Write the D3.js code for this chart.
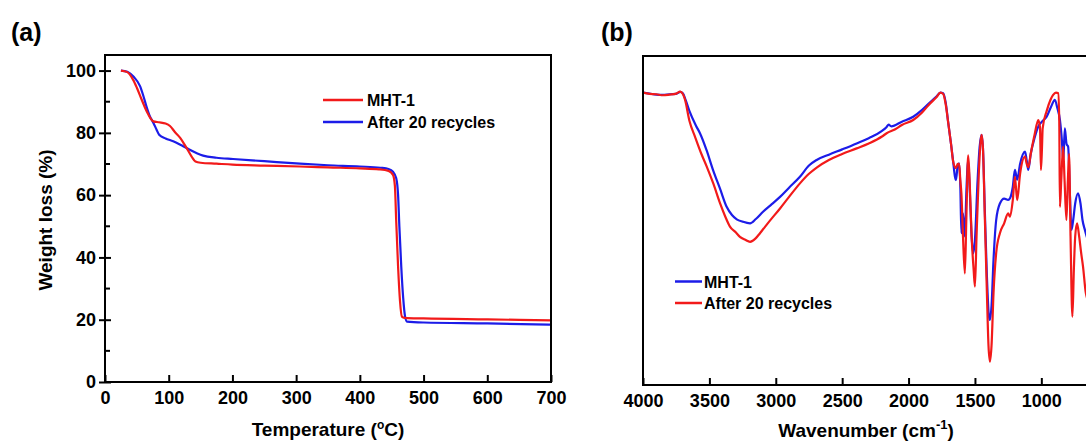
<!DOCTYPE html>
<meta charset="utf-8">
<head>
<style>
  body { margin: 0; background: #fff; }
  svg text { font-family: "Liberation Sans", Arial, sans-serif; font-weight: bold; fill: #000; }
  .axis path, .axis line { fill: none; stroke: #000; stroke-width: 2px; }
  .axis text { font-size: 18px; }
  .frame { fill: none; stroke: #000; stroke-width: 2px; }
  .curve { fill: none; stroke-width: 2.2px; stroke-linejoin: round; }
</style>
</head>
<body>
<script src="https://d3js.org/d3.v7.min.js"></script>
<script>

// TGA curves: [temperature (°C), weight (%)]
var tgaFresh = [[25,100],[35,99.5],[44,97.1],[50,94.5],[57.5,90.7],[63,88],[68,85.9],[72,84.5],[76,83.7],[85,83.4],[95,83],[102,82.2],[110,80.2],[118,78.4],[127,75.5],[136,72.4],[142,70.8],[150,70.4],[175,70.1],[200,69.8],[250,69.5],[306,69.2],[350,68.9],[400,68.6],[430,68.3],[445,67.8],[452,66.5],[455,63],[457,52],[460,37],[463,26],[466,21],[470,20.6],[500,20.4],[600,20.1],[700,19.8]];
var tgaRecycled = [[25,100],[35,99.6],[45,98],[55,95],[60,92],[65,88.5],[70,85.5],[76,83.2],[81,81],[85,79.4],[95,78.2],[107,77.3],[120,76],[133,74.6],[145,73.4],[154,72.7],[175,72],[201,71.6],[250,70.9],[306,70.1],[350,69.6],[400,69.2],[432,68.8],[445,68.4],[452,67.5],[457,65.5],[460,60],[462,50],[465,37],[468,27],[471,21],[474,19.4],[500,19.1],[600,18.8],[700,18.4]];
var tgaTempTicks = [0,100,200,300,400,500,600,700];
var tgaWeightTicks = [0,20,40,60,80,100];
var tgaWeightMinor = [10,30,50,70,90];

// FTIR spectra: [wavenumber (cm-1), transmittance (a.u.)]
var irFresh = [[4000,88.6],[3950,88.3],[3900,88.0],[3850,87.9],[3800,88.1],[3750,88.2],[3720,88.8],[3700,88.4],[3680,86.5],[3650,83],[3600,78.5],[3571,76.3],[3520,71],[3473,65.2],[3420,59.5],[3370,54],[3330,51.5],[3294,50.2],[3250,49.5],[3194,49],[3150,50.3],[3096,52.5],[3030,54.8],[2968,57],[2900,59.8],[2818,63.1],[2750,66.5],[2692,68.2],[2600,69.8],[2500,71.4],[2391,73.2],[2300,74.8],[2200,77],[2165,78.2],[2150,78.9],[2130,78.4],[2050,79.8],[1965,81.3],[1900,83.3],[1850,85.2],[1790,87.4],[1760,88.6],[1739,88.4],[1720,85.5],[1701,79.4],[1680,73],[1664,67.7],[1650,63],[1643,62.1],[1630,66.5],[1619,67.2],[1610,60],[1602,46],[1590,52],[1576,45],[1565,58],[1551,68],[1540,60],[1525,45],[1513,39.9],[1500,44],[1480,62],[1465,72],[1450,75.8],[1440,72],[1425,52],[1410,33],[1395,21],[1387,19.7],[1375,24],[1360,38],[1340,50],[1312,55],[1280,56.5],[1250,56.1],[1236,56.6],[1215,60],[1199,65.2],[1182,62.2],[1160,67],[1123,70.7],[1110,68],[1098,65.2],[1080,70],[1050,75],[1023,78.3],[990,80],[960,81.3],[930,84],[898,86.4],[880,84],[860,80.3],[845,74],[835,68],[823,77.8],[810,73],[798,72.2],[785,58],[773,47],[760,50],[745,55],[723,58.1],[705,55],[690,50],[672,47],[650,44],[620,42]];
var irRecycled = [[4000,88.6],[3950,88.2],[3900,88.1],[3850,87.8],[3800,88.0],[3750,88.3],[3720,88.9],[3700,88.2],[3684,86.5],[3650,80],[3608,75.2],[3560,70],[3520,66.2],[3470,61],[3420,55.1],[3380,51],[3345,48],[3300,46.2],[3270,44.9],[3230,44],[3194,43.4],[3150,44.5],[3119,46],[3050,49.5],[2968,53.5],[2900,57],[2818,61.1],[2750,64],[2692,65.9],[2600,68.2],[2500,70],[2391,71.7],[2300,73.2],[2200,75.3],[2165,76.3],[2100,77.5],[2050,78.8],[1965,80.3],[1900,82.5],[1850,84.8],[1790,87.2],[1760,88.6],[1739,88.2],[1720,85],[1701,79.4],[1680,73],[1664,67.7],[1643,65.7],[1630,67],[1619,67],[1610,62],[1602,58],[1590,45],[1576,33.8],[1565,50],[1551,69.6],[1540,62],[1525,45],[1510,35],[1500,29.8],[1488,45],[1470,65],[1450,75.8],[1440,72],[1425,50],[1410,28],[1398,12],[1387,7.1],[1375,12],[1360,28],[1340,40],[1312,46],[1280,49],[1250,52],[1236,51],[1215,56],[1199,63.1],[1182,56],[1160,64],[1123,69.2],[1110,67],[1098,66],[1080,70],[1050,76],[1023,80.3],[1010,78],[1003,65.2],[995,72],[990,77.8],[960,83],[930,86.5],[911,87.9],[890,88.6],[873,88.4],[865,80],[860,54],[850,62],[836,72.2],[825,62],[811,50],[800,62],[791,70],[780,45],[766,20.7],[755,35],[745,45],[731,49],[715,45],[700,40],[686,35.9],[665,27.9],[640,25]];
var irTicks = [4000,3500,3000,2500,2000,1500,1000];

var red = "#f21a1a", blue = "#1c1ce8";

var svg = d3.select("body").append("svg")
    .attr("width", 1086)
    .attr("height", 442);

// ---------- (a) TGA ----------
var ax = d3.scaleLinear().domain([0, 700]).range([105, 551]);
var ay = d3.scaleLinear().domain([0, 105]).range([382, 55]);

svg.append("defs").append("clipPath").attr("id", "clipA")
  .append("rect").attr("x", 105).attr("y", 55).attr("width", 446).attr("height", 327);

var tgaLine = d3.line()
    .x(function(d) { return ax(d[0]); })
    .y(function(d) { return ay(d[1]); })
    .curve(d3.curveMonotoneX);

svg.append("path").datum(tgaRecycled).attr("class", "curve")
    .attr("clip-path", "url(#clipA)").attr("stroke", blue).attr("d", tgaLine);
svg.append("path").datum(tgaFresh).attr("class", "curve")
    .attr("clip-path", "url(#clipA)").attr("stroke", red).attr("d", tgaLine);

svg.append("rect").attr("class", "frame")
    .attr("x", 105).attr("y", 55).attr("width", 446).attr("height", 327);

svg.append("g")
    .attr("class", "axis")
    .attr("transform", "translate(0,382)")
    .call(d3.axisBottom(ax).tickValues(tgaTempTicks).tickFormat(d3.format("d"))
      .tickSizeInner(-7).tickSizeOuter(0).tickPadding(9))
    .select(".domain").remove();

var ayAxis = svg.append("g")
    .attr("class", "axis")
    .attr("transform", "translate(105,0)")
    .call(d3.axisLeft(ay).tickValues(tgaWeightTicks).tickFormat(d3.format("d"))
      .tickSizeInner(6).tickSizeOuter(0).tickPadding(3));
ayAxis.select(".domain").remove();
ayAxis.selectAll(".tick line").attr("x1", 6);

svg.append("g").selectAll("line")
    .data(tgaWeightMinor)
  .enter().append("line")
    .attr("x1", 105).attr("x2", 110)
    .attr("y1", function(d) { return ay(d); })
    .attr("y2", function(d) { return ay(d); })
    .style("stroke", "#000").style("stroke-width", 2);

svg.append("text").attr("x", 11).attr("y", 41)
    .style("font-size", "25px").text("(a)");

var tTitle = svg.append("text")
    .attr("x", 328).attr("y", 436)
    .attr("text-anchor", "middle")
    .style("font-size", "19px");
tTitle.append("tspan").text("Temperature (");
tTitle.append("tspan").attr("dy", -7).style("font-size", "12px").text("o");
tTitle.append("tspan").attr("dy", 7).text("C)");

svg.append("text")
    .attr("transform", "translate(52,220) rotate(-90)")
    .attr("text-anchor", "middle")
    .style("font-size", "19px")
    .text("Weight loss (%)");

var legA = [["MHT-1", red, 100], ["After 20 recycles", blue, 122]];
legA.forEach(function(l) {
  svg.append("line").attr("x1", 323).attr("x2", 363).attr("y1", l[2]).attr("y2", l[2])
      .style("stroke", l[1]).style("stroke-width", 2.5);
  svg.append("text").attr("x", 367).attr("y", l[2] + 6)
      .style("font-size", "16px").text(l[0]);
});

// ---------- (b) FTIR ----------
var bx = d3.scaleLinear().domain([4000, 400]).range([643, 1121]);
var by = d3.scaleLinear().domain([0, 100]).range([385, 55]);

svg.append("defs").append("clipPath").attr("id", "clipB")
  .append("rect").attr("x", 643).attr("y", 56).attr("width", 478).attr("height", 329);

var irLine = d3.line()
    .x(function(d) { return bx(d[0]); })
    .y(function(d) { return by(d[1]); })
    .curve(d3.curveMonotoneX);

svg.append("path").datum(irFresh).attr("class", "curve")
    .attr("clip-path", "url(#clipB)").attr("stroke", blue).attr("d", irLine);
svg.append("path").datum(irRecycled).attr("class", "curve")
    .attr("clip-path", "url(#clipB)").attr("stroke", red).attr("d", irLine);

svg.append("rect").attr("class", "frame")
    .attr("x", 643).attr("y", 56).attr("width", 478).attr("height", 329);

svg.append("g")
    .attr("class", "axis")
    .attr("transform", "translate(0,385)")
    .call(d3.axisBottom(bx).tickValues(irTicks).tickFormat(d3.format("d"))
      .tickSizeInner(-7).tickSizeOuter(0).tickPadding(9))
    .select(".domain").remove();

svg.append("text").attr("x", 601).attr("y", 41)
    .style("font-size", "25px").text("(b)");

var wTitle = svg.append("text")
    .attr("x", 866).attr("y", 437)
    .attr("text-anchor", "middle")
    .style("font-size", "19px");
wTitle.append("tspan").text("Wavenumber (cm");
wTitle.append("tspan").attr("dy", -8).style("font-size", "13px").text("-1");
wTitle.append("tspan").attr("dy", 8).text(")");

var legB = [["MHT-1", blue, 281.5], ["After 20 recycles", red, 303]];
legB.forEach(function(l) {
  svg.append("line").attr("x1", 675).attr("x2", 702).attr("y1", l[2]).attr("y2", l[2])
      .style("stroke", l[1]).style("stroke-width", 2.5);
  svg.append("text").attr("x", 704).attr("y", l[2] + 6)
      .style("font-size", "16px").text(l[0]);
});

</script>
</body>
